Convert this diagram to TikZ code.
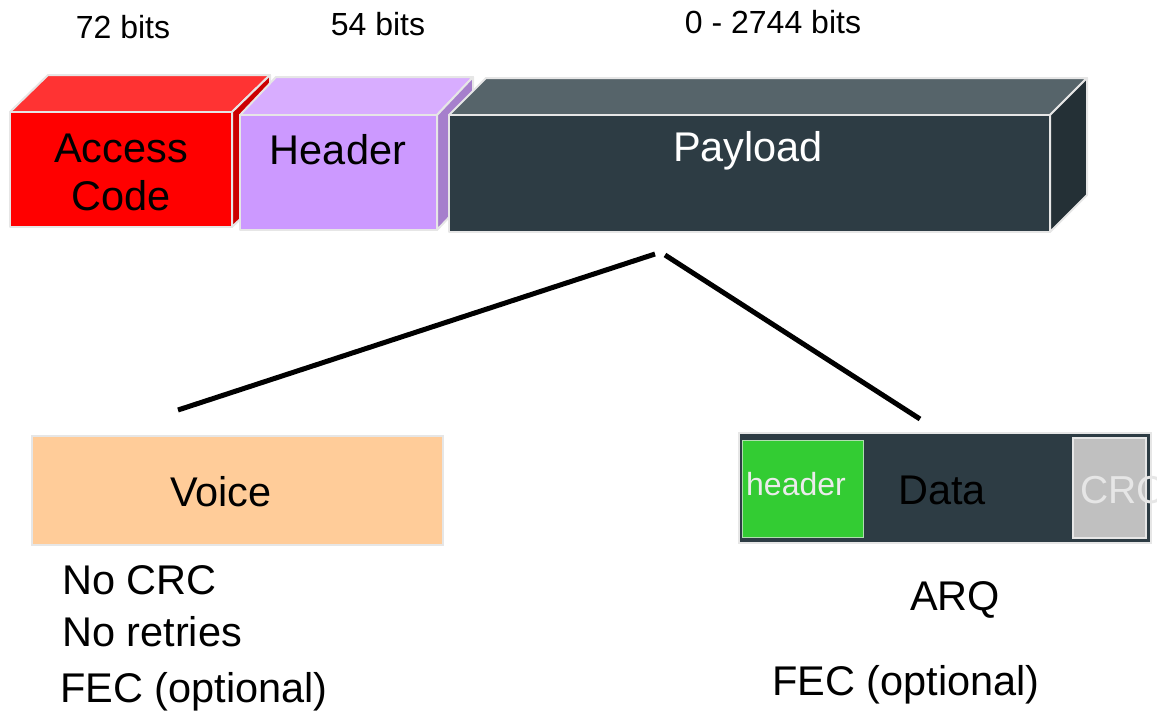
\documentclass[tikz,border=0pt]{standalone}
\usepackage{fontspec}
\setmainfont{Liberation Sans}
\definecolor{acfront}{HTML}{FF0000}
\definecolor{actop}{HTML}{FF3333}
\definecolor{acside}{HTML}{CC0000}
\definecolor{hdfront}{HTML}{CC99FF}
\definecolor{hdtop}{HTML}{D8ADFF}
\definecolor{hdside}{HTML}{A67FCC}
\definecolor{plfront}{HTML}{2D3C44}
\definecolor{pltop}{HTML}{56646A}
\definecolor{plside}{HTML}{243036}
\definecolor{edge}{HTML}{E6E6E6}
\definecolor{voicefill}{HTML}{FFCC99}
\definecolor{greenfill}{HTML}{33CC33}
\definecolor{crcfill}{HTML}{C0C0C0}
\begin{document}
\begin{tikzpicture}[x=1pt,y=-1pt,
  face/.style={draw=edge,line width=2pt,line join=round},
  big/.style={font=\fontsize{41.5}{48}\selectfont,inner sep=0pt},
  small/.style={font=\fontsize{32}{36}\selectfont,inner sep=0pt},
  link/.style={line width=5pt}]
\useasboundingbox (0,0) rectangle (1157,716);
% Access code cuboid
\fill[face,fill=actop] (10,112) -- (48,75) -- (270,75) -- (232,112) -- cycle;
\fill[face,fill=acside] (232,112) -- (270,75) -- (270,190) -- (232,227) -- cycle;
\fill[face,fill=acfront] (10,112) rectangle (232,227);
% Header cuboid
\fill[face,fill=hdtop] (240,115) -- (276,77) -- (473,77) -- (437,115) -- cycle;
\fill[face,fill=hdside] (437,115) -- (473,77) -- (473,192) -- (437,230) -- cycle;
\fill[face,fill=hdfront] (240,115) rectangle (437,230);
% Payload cuboid
\fill[face,fill=pltop] (449,115) -- (486,78) -- (1087,78) -- (1050,115) -- cycle;
\fill[face,fill=plside] (1050,115) -- (1087,78) -- (1087,195) -- (1050,232) -- cycle;
\fill[face,fill=plfront] (449,115) rectangle (1050,232);
% labels on cuboids
\node[big,align=center] (ac) at (121,172) {Access\\Code};
\node[big] (hd) at (338,150) {Header};
\node[big,text=white] (pl) at (748,151) {Payload};
% bit counts
\node[small] (b1) at (123,27) {72 bits};
\node[small] (b2) at (378,24) {54 bits};
\node[small] (b3) at (773,22) {0 - 2744 bits};
% voice box
\node[draw=edge,line width=2pt,fill=voicefill,minimum width=411pt,minimum height=109pt,inner sep=0pt] (voice) at (237.5,490.5) {};
\node[big] (voicet) at (221,492) {Voice};
% data box
\node[draw=edge,line width=2pt,fill=plfront,minimum width=412pt,minimum height=110pt,inner sep=0pt] (data) at (945,488) {};
\node[draw=edge!70!greenfill,line width=1pt,fill=greenfill,minimum width=121pt,minimum height=97pt,inner sep=0pt] (dhdr) at (802.5,488.5) {};
\node[draw=edge,line width=2pt,fill=crcfill,minimum width=73pt,minimum height=100pt,inner sep=0pt] (dcrc) at (1109.5,488) {};
\node[small,text=white!92!black] (dhdrt) at (796,484) {header};
\begin{scope}
\clip (0,0) rectangle (1157,716);
\node[font=\fontsize{39}{44}\selectfont,inner sep=0pt,anchor=west,text=edge] (crct) at (1080,490) {CRC};
\end{scope}
\node[big,text=black] (datat) at (942,490) {Data};
% notes
\node[big,anchor=west] (n1) at (62,580) {No CRC};
\node[big,anchor=west] (n2) at (62,632) {No retries};
\node[big,anchor=west] (n3) at (60,692) {FEC (optional)};
\node[big] (n4) at (955,600) {ARQ};
\node[big] (n5) at (906,685) {FEC (optional)};
% connectors
\coordinate (p1) at (655,254);
\coordinate (v1) at (178,410);
\coordinate (p2) at (665,255);
\coordinate (d1) at (920,419);
\draw[link] (p1) -- (v1);
\draw[link] (p2) -- (d1);
\end{tikzpicture}
\end{document}
